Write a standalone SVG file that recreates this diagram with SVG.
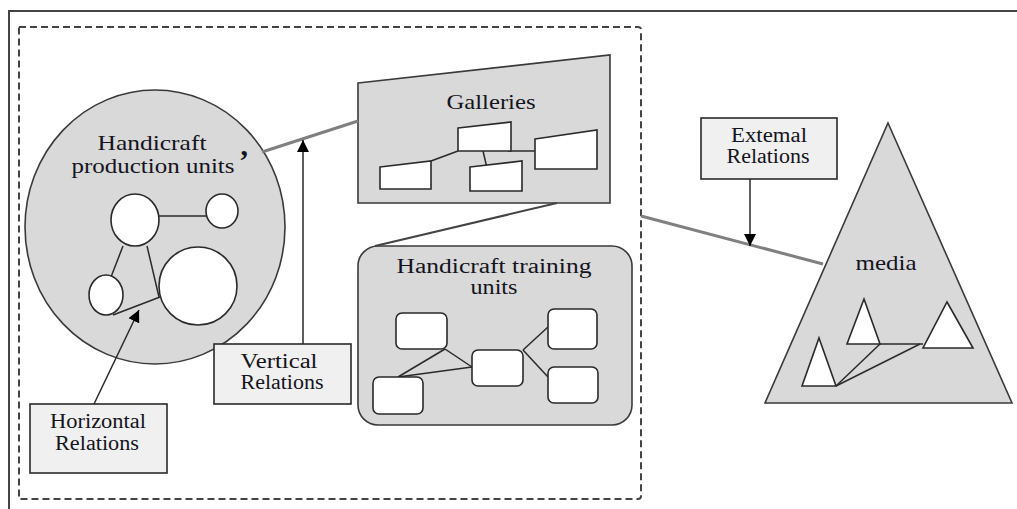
<svg xmlns="http://www.w3.org/2000/svg" width="1017" height="509" viewBox="0 0 1017 509">
<defs>
<style>
.shape{fill:#d9d9d9;stroke:#3a3a3a;stroke-width:1.6}
.inner{fill:#ffffff;stroke:#2a2a2a;stroke-width:1.6}
.label{fill:#f0f0f0;stroke:#2a2a2a;stroke-width:1.6}
.link{stroke:#2a2a2a;stroke-width:1.5;fill:none}
.rel{stroke:#808080;stroke-width:3;fill:none}
.arr{stroke:#2a2a2a;stroke-width:1.5;fill:none}
.t22{font-size:22px}
.t21{font-size:21px}
.t20{font-size:20px}
</style>
<marker id="ahL" viewBox="0 0 10 10" refX="10" refY="5" markerWidth="12" markerHeight="12" markerUnits="userSpaceOnUse" orient="auto">
<path d="M0,0 L10,5 L0,10 Z" fill="#000"/>
</marker>
</defs>
<rect x="0" y="0" width="1017" height="509" fill="#ffffff"/>
<path d="M9,509 L9,11 L1017,11" fill="none" stroke="#444" stroke-width="2"/>
<path d="M19,27 L638,27 Q641,27 641,30 L641,496 Q641,499 638,499 L19,499 Z" fill="none" stroke="#444" stroke-width="2" stroke-dasharray="7,4"/>

<g font-family="'Liberation Serif', 'Times New Roman', serif" fill="#141420" text-anchor="middle">

<g id="production">
<ellipse class="shape" cx="155" cy="227" rx="130" ry="137"/>
<text class="t22" x="152" y="150" textLength="109" lengthAdjust="spacingAndGlyphs">Handicraft</text>
<text class="t22" x="153" y="173" textLength="163" lengthAdjust="spacingAndGlyphs">production units</text>
<text x="244" y="170" font-size="30" font-weight="bold">’</text>
<line class="link" x1="159" y1="216" x2="206" y2="216"/>
<line class="link" x1="123" y1="246" x2="111" y2="277"/>
<line class="link" x1="147" y1="246" x2="159" y2="297"/>
<line class="link" x1="113" y1="315" x2="160" y2="297"/>
<ellipse class="inner" cx="135" cy="220" rx="24" ry="26"/>
<ellipse class="inner" cx="222" cy="211" rx="16" ry="17"/>
<ellipse class="inner" cx="106" cy="295" rx="17" ry="20"/>
<ellipse class="inner" cx="198" cy="286" rx="39" ry="39"/>
</g>

<g id="galleries">
<polygon class="shape" points="358,83 610,55 610,203 358,203"/>
<text class="t22" x="491" y="109" textLength="89" lengthAdjust="spacingAndGlyphs">Galleries</text>
<line class="link" x1="431" y1="161" x2="458" y2="151"/>
<line class="link" x1="508" y1="151" x2="535" y2="151"/>
<line class="link" x1="483" y1="151" x2="487" y2="168"/>
<polygon class="inner" points="458,128 511,122 511,151 458,151"/>
<polygon class="inner" points="380,167 431,161 431,189 380,189"/>
<polygon class="inner" points="470,167 522,161 522,191 470,191"/>
<polygon class="inner" points="535,139 597,130 597,169 535,169"/>
</g>

<g id="training">
<rect class="shape" x="358" y="246" width="274" height="179" rx="20" ry="20"/>
<text class="t20" x="494" y="273" textLength="195" lengthAdjust="spacingAndGlyphs">Handicraft training</text>
<text class="t20" x="494" y="294" textLength="47" lengthAdjust="spacingAndGlyphs">units</text>
<line class="link" x1="445" y1="349" x2="398" y2="377"/>
<line class="link" x1="445" y1="349" x2="472" y2="367"/>
<line class="link" x1="398" y1="377" x2="472" y2="367"/>
<line class="link" x1="523" y1="350" x2="548" y2="327"/>
<line class="link" x1="523" y1="350" x2="548" y2="377"/>
<rect class="inner" x="396" y="313" width="51" height="36" rx="6"/>
<rect class="inner" x="373" y="377" width="50" height="37" rx="6"/>
<rect class="inner" x="472" y="350" width="51" height="36" rx="6"/>
<rect class="inner" x="548" y="309" width="49" height="40" rx="6"/>
<rect class="inner" x="548" y="367" width="50" height="36" rx="6"/>
</g>

<g id="media">
<polygon class="shape" points="888,123 1012,403 765,403"/>
<text class="t22" x="886" y="270" textLength="61" lengthAdjust="spacingAndGlyphs">media</text>
<line class="link" x1="836" y1="386" x2="880" y2="344"/>
<line class="link" x1="836" y1="386" x2="920" y2="344"/>
<line class="link" x1="880" y1="344" x2="923" y2="344"/>
<polygon class="inner" points="864,299 880,344 847,344"/>
<polygon class="inner" points="947,302 973,348 923,348"/>
<polygon class="inner" points="819,338 836,386 802,386"/>
</g>

<g id="horizontal-relations">
<rect class="label" x="30" y="404" width="137" height="69"/>
<text class="t20" x="98" y="428" textLength="96" lengthAdjust="spacingAndGlyphs">Horizontal</text>
<text class="t20" x="97" y="450" textLength="84" lengthAdjust="spacingAndGlyphs">Relations</text>
</g>

<g id="vertical-relations">
<rect class="label" x="214" y="344" width="137" height="60"/>
<text class="t20" x="279" y="368" textLength="77" lengthAdjust="spacingAndGlyphs">Vertical</text>
<text class="t20" x="282" y="389" textLength="83" lengthAdjust="spacingAndGlyphs">Relations</text>
</g>

<g id="external-relations">
<rect class="label" x="701" y="118" width="136" height="61"/>
<text class="t20" x="769" y="142" textLength="76" lengthAdjust="spacingAndGlyphs">Extemal</text>
<text class="t20" x="768" y="163" textLength="83" lengthAdjust="spacingAndGlyphs">Relations</text>
</g>
</g>

<g id="connectors">
<line class="rel" x1="262" y1="152" x2="358" y2="121"/>
<line x1="557" y1="203" x2="375" y2="246" stroke="#444" stroke-width="2"/>
<line class="rel" x1="641" y1="216" x2="823" y2="264"/>
<line class="arr" x1="94" y1="404" x2="139" y2="310" marker-end="url(#ahL)"/>
<line class="arr" x1="303" y1="344" x2="303" y2="140" marker-end="url(#ahL)"/>
<line class="arr" x1="750" y1="179" x2="750" y2="246" marker-end="url(#ahL)"/>
</g>
</svg>
